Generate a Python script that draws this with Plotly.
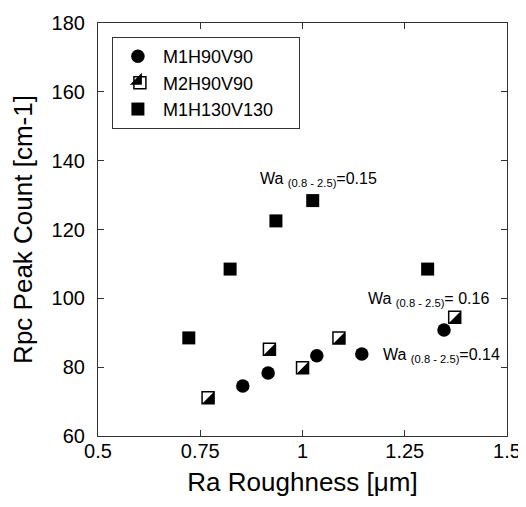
import plotly.graph_objects as go

# M1H90V90 (filled circles)
m1_90_x = [0.854, 0.916, 1.035, 1.145, 1.346]
m1_90_y = [74.5, 78.3, 83.3, 83.8, 90.8]

# M2H90V90 (half-filled squares)
m2_90_x = [0.774, 0.924, 1.005, 1.094, 1.377]
m2_90_y = [71.1, 85.2, 79.8, 88.5, 94.5]

# M1H130V130 (filled squares)
m1_130_x = [0.722, 0.823, 0.935, 1.025, 1.306]
m1_130_y = [88.5, 108.5, 122.5, 128.4, 108.5]

# Wa labels: (x, y, value)
wa_labels = [
    (1.038, 134.4, "=0.15"),
    (1.309, 99.8, "= 0.16"),
    (1.340, 83.5, "=0.14"),
]

x_ticks = [0.5, 0.75, 1, 1.25, 1.5]
x_ticktext = ["0.5", "0.75", "1", "1.25", "1.5"]
y_ticks = [60, 80, 100, 120, 140, 160, 180]

FONT = "Liberation Sans, Arial, sans-serif"
LEG_FONT = 18
LEG_ROW = LEG_FONT * 1.3 + 3  # plotly legend row height

fig = go.Figure()

fig.add_trace(go.Scatter(
    x=m1_90_x, y=m1_90_y, mode="markers", name="M1H90V90",
    marker=dict(symbol="circle", size=13.5, color="black"),
))

# split square: white square nudged left 2px, black SE triangle nudged down 2px
fig.add_trace(go.Scatter(
    x=m2_90_x, y=m2_90_y, mode="markers", name="M2H90V90",
    marker=dict(symbol="square", size=12, color="white", angle=90,
                standoff=2, line=dict(color="black", width=1.5)),
))

fig.add_trace(go.Scatter(
    x=m1_130_x, y=m1_130_y, mode="markers",
    name="M1H130V130\u00a0\u00a0\u00a0\u00a0",
    marker=dict(symbol="square", size=13, color="black"),
))

fig.add_trace(go.Scatter(
    x=m2_90_x, y=m2_90_y, mode="markers", name="M2H90V90",
    legend="legend2",
    marker=dict(symbol="triangle-se", size=13.33, color="black",
                standoff=2, line=dict(width=0)),
))

for x, y, val in wa_labels:
    fig.add_annotation(
        x=x, y=y, xref="x", yref="y", showarrow=False,
        text="Wa <sub>(0.8 - 2.5)</sub>" + val,
        font=dict(size=16, color="black", family=FONT),
        xanchor="center", yanchor="middle",
    )

axis_style = dict(
    showgrid=False,
    zeroline=False,
    showline=True,
    linewidth=1.2,
    linecolor="#333",
    mirror="allticks",
    ticks="inside",
    ticklen=6,
    tickwidth=1.2,
    tickcolor="#333",
    automargin=False,
    tickfont=dict(size=20, color="black", family=FONT),
)

PLOT_H = 413
leg_x = 0.034
leg_y = 0.966

fig.update_layout(
    width=518,
    height=499,
    margin=dict(l=90, r=19, t=15, b=71),
    plot_bgcolor="white",
    paper_bgcolor="white",
    font=dict(family=FONT, color="black"),
    xaxis=dict(
        range=[0.5, 1.5],
        tickvals=x_ticks,
        ticktext=x_ticktext,
        ticklabelstandoff=-3,
        title=dict(text="Ra Roughness [μm]", font=dict(size=26), standoff=11),
        **axis_style,
    ),
    yaxis=dict(
        range=[60, 180],
        tickvals=y_ticks,
        ticklabelstandoff=8,
        title=dict(text="Rpc Peak Count [cm-1]", font=dict(size=26), standoff=13),
        **axis_style,
    ),
    legend=dict(
        x=leg_x,
        y=leg_y,
        xanchor="left",
        yanchor="top",
        bgcolor="white",
        bordercolor="#333",
        borderwidth=1,
        font=dict(size=LEG_FONT, color="black", family=FONT),
        itemwidth=40,
    ),
    # second legend only carries the black half of the split-square symbol
    legend2=dict(
        x=leg_x,
        y=leg_y - LEG_ROW / PLOT_H,
        xanchor="left",
        yanchor="top",
        bgcolor="rgba(0,0,0,0)",
        bordercolor="rgba(0,0,0,0)",
        borderwidth=1,
        font=dict(size=LEG_FONT, color="rgba(0,0,0,0)", family=FONT),
        itemwidth=40,
    ),
    showlegend=True,
)

fig.write_html("out.html")
